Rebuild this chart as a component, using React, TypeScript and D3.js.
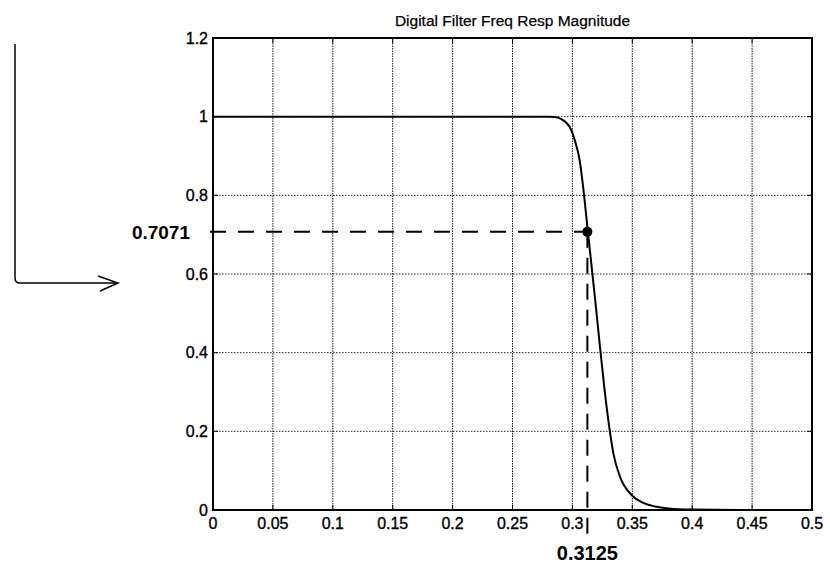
import React from "react";
import * as d3 from "d3";

const title = "Digital Filter Freq Resp Magnitude";
const xTicks = [0, 0.05, 0.1, 0.15, 0.2, 0.25, 0.3, 0.35, 0.4, 0.45, 0.5];
const xTickLabels = ["0", "0.05", "0.1", "0.15", "0.2", "0.25", "0.3", "0.35", "0.4", "0.45", "0.5"];
const yTicks = [0, 0.2, 0.4, 0.6, 0.8, 1, 1.2];
const yTickLabels = ["0", "0.2", "0.4", "0.6", "0.8", "1", "1.2"];

const freq = [0, 0.1, 0.2, 0.25, 0.28, 0.285, 0.29, 0.2975, 0.302, 0.306, 0.309, 0.3125, 0.316, 0.3195, 0.3225, 0.3267, 0.3308, 0.3342, 0.3397, 0.3495, 0.3592, 0.369, 0.38, 0.4, 0.45, 0.5];
const magnitude = [1, 1, 1, 1, 1, 0.999, 0.995, 0.975, 0.94, 0.89, 0.82, 0.72, 0.62, 0.52, 0.43, 0.31, 0.21, 0.144, 0.085, 0.038, 0.018, 0.009, 0.004, 0.001, 0, 0];

const cutoffFreq = 0.3125;
const cutoffMag = 0.7071;
const cutoffFreqLabel = "0.3125";
const cutoffMagLabel = "0.7071";

export default function App() {
  const W = 830, H = 570;
  const left = 213, right = 812, top = 38, bottom = 510;
  const x = d3.scaleLinear().domain([0, 0.5]).range([left, right]);
  const y = d3.scaleLinear().domain([0, 1.2]).range([bottom, top]);
  const pts: [number, number][] = freq.map((f, i) => [f, magnitude[i]]);
  const line = d3.line<[number, number]>().x(d => x(d[0])).y(d => y(d[1])).curve(d3.curveMonotoneX);
  const font = "Arial, 'Liberation Sans', sans-serif";
  const tl = 5;

  return (
    <svg width={W} height={H} style={{ position: "absolute", left: 0, top: 0, background: "#fff" }} fontFamily={font}>
      <rect x={0} y={0} width={W} height={H} fill="#fff" />
      {/* grid */}
      {xTicks.slice(1, -1).map((t, i) => (
        <line key={"gx" + i} x1={x(t)} x2={x(t)} y1={top} y2={bottom} stroke="#000" strokeWidth={1} strokeDasharray="1.5 1" opacity={0.9} />
      ))}
      {yTicks.slice(1, -1).map((t, i) => (
        <line key={"gy" + i} x1={left} x2={right} y1={y(t)} y2={y(t)} stroke="#000" strokeWidth={1} strokeDasharray="1.5 1.5" opacity={0.85} />
      ))}
      {/* ticks inside */}
      {xTicks.map((t, i) => (
        <g key={"tx" + i}>
          <line x1={x(t)} x2={x(t)} y1={bottom} y2={bottom - tl} stroke="#000" />
          <line x1={x(t)} x2={x(t)} y1={top} y2={top + tl} stroke="#000" />
        </g>
      ))}
      {yTicks.map((t, i) => (
        <g key={"ty" + i}>
          <line x1={left} x2={left + tl} y1={y(t)} y2={y(t)} stroke="#000" />
          <line x1={right} x2={right - tl} y1={y(t)} y2={y(t)} stroke="#000" />
        </g>
      ))}
      {/* box */}
      <rect x={left} y={top} width={right - left} height={bottom - top} fill="none" stroke="#000" strokeWidth={2} />
      {/* tick labels */}
      {xTicks.map((t, i) => (
        <text key={"lx" + i} x={x(t)} y={bottom + 19} fontSize={16} textAnchor="middle" fill="#000" stroke="#000" strokeWidth={0.35}>{xTickLabels[i]}</text>
      ))}
      {yTicks.map((t, i) => (
        <text key={"ly" + i} x={left - 5} y={y(t) + 5.5} fontSize={16} textAnchor="end" fill="#000" stroke="#000" strokeWidth={0.35}>{yTickLabels[i]}</text>
      ))}
      {/* title */}
      <text x={(left + right) / 2} y={26} fontSize={15.5} textAnchor="middle" fill="#000" stroke="#000" strokeWidth={0.25}>{title}</text>
      {/* curve */}
      <path d={line(pts) || ""} fill="none" stroke="#000" strokeWidth={2} />
      {/* cutoff annotation */}
      <line x1={left - 3} x2={x(cutoffFreq)} y1={y(cutoffMag)} y2={y(cutoffMag)} stroke="#000" strokeWidth={2} strokeDasharray="16 12" />
      <line x1={x(cutoffFreq)} x2={x(cutoffFreq)} y1={y(cutoffMag)} y2={bottom + 25} stroke="#000" strokeWidth={2} strokeDasharray="16 10" />
      <circle cx={x(cutoffFreq)} cy={y(cutoffMag)} r={5} fill="#000" />
      <text x={left - 23} y={y(cutoffMag) + 7} fontSize={19} fontWeight="bold" textAnchor="end" fill="#000">{cutoffMagLabel}</text>
      <text x={x(cutoffFreq)} y={bottom + 50} fontSize={20} fontWeight="bold" textAnchor="middle" fill="#000">{cutoffFreqLabel}</text>
      {/* left arrow annotation */}
      <path d="M15,44 L15,278 Q15,283 20,283 L118,283" fill="none" stroke="#000" strokeWidth={1.5} />
      <path d="M98,276 L118,283 L100,291" fill="none" stroke="#000" strokeWidth={1.5} />
    </svg>
  );
}
